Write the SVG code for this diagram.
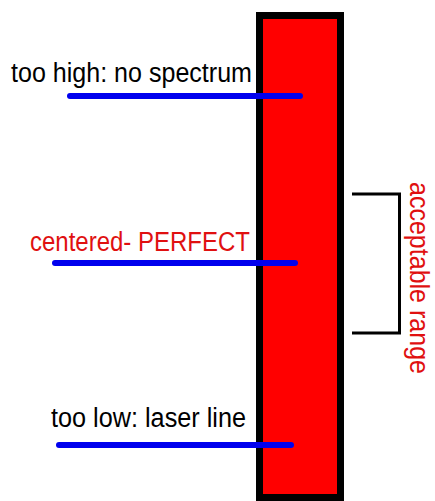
<svg xmlns="http://www.w3.org/2000/svg" width="435" height="501" viewBox="0 0 435 501">
<style>
  .lbl { font-family: "Liberation Sans", Arial, sans-serif; font-size: 27px; }
  .blk { fill: #000; }
  .red { fill: #e01010; }
  .beam { stroke: #0000ee; stroke-width: 6; stroke-linecap: round; fill: none; }
  .br { stroke: #000; stroke-width: 3; fill: none; }
</style>
<rect width="435" height="501" fill="#fff"/>
<g id="sample">
  <rect x="259.5" y="15.5" width="81" height="482" fill="#ff0000" stroke="#000" stroke-width="7"/>
</g>
<g id="connectors">
  <line class="beam" x1="70" y1="96" x2="300" y2="96"/>
  <line class="beam" x1="55" y1="263" x2="295" y2="263"/>
  <line class="beam" x1="59" y1="445" x2="291" y2="445"/>
  <polyline class="br" points="352,194 399.5,194 399.5,333 352,333"/>
</g>
<g id="label-high">
  <text class="lbl blk" x="11" y="82" textLength="241" lengthAdjust="spacingAndGlyphs">too high: no spectrum</text>
</g>
<g id="label-center">
  <text class="lbl red" x="30" y="251" textLength="220" lengthAdjust="spacingAndGlyphs">centered- PERFECT</text>
</g>
<g id="label-low">
  <text class="lbl blk" x="51" y="427" textLength="195" lengthAdjust="spacingAndGlyphs">too low: laser line</text>
</g>
<g id="label-range">
  <text class="lbl red" transform="translate(410,182) rotate(90)" textLength="192" lengthAdjust="spacingAndGlyphs">acceptable range</text>
</g>
</svg>
